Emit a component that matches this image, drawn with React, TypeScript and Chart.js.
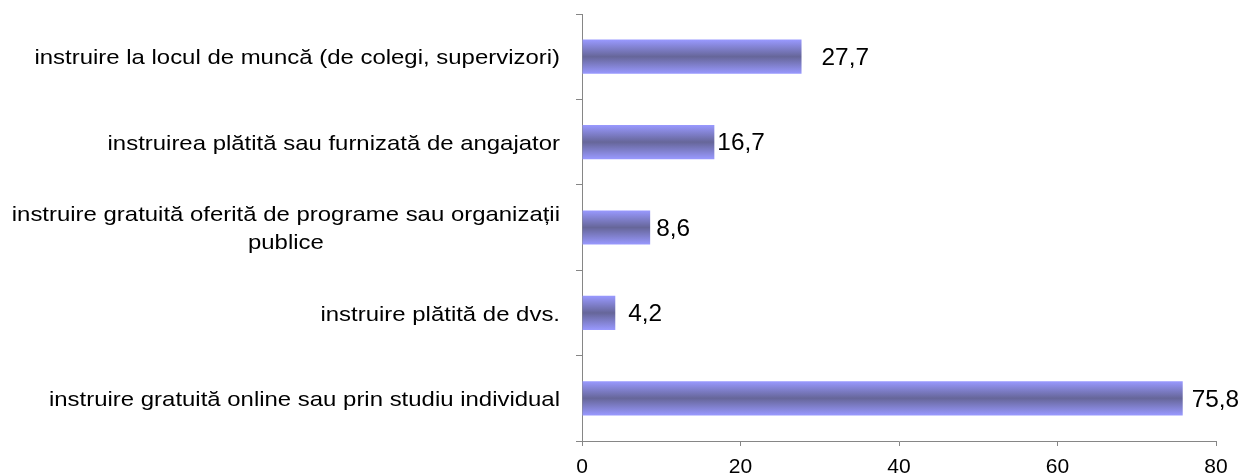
import React, { useEffect, useRef } from "react";
import { Chart, registerables } from "chart.js";

Chart.register(...registerables);

const categories: string[][] = [
  ["instruire la locul de muncă (de colegi, supervizori)"],
  ["instruirea plătită sau furnizată de angajator"],
  ["instruire gratuită oferită de programe sau organizații", "publice"],
  ["instruire plătită de dvs."],
  ["instruire gratuită online sau prin studiu individual"],
];
const values: number[] = [27.7, 16.7, 8.6, 4.2, 75.8];
const valueLabels: string[] = ["27,7", "16,7", "8,6", "4,2", "75,8"];
const xTicks: number[] = [0, 20, 40, 60, 80];

const labelGaps = [20, 3, 6, 13, 9];
const FONT = "'Liberation Sans', Arial, sans-serif";
const AXIS_COLOR = "#868686";
const BAR_PCT = 0.4;
const CAT_STRETCH = 1.14;
const VAL_STRETCH = 1.06;

export default function App() {
  const ref = useRef<HTMLCanvasElement | null>(null);
  useEffect(() => {
    if (!ref.current) return;
    const categoryLabelsPlugin = {
      id: "catLabels",
      afterDraw(chart: any) {
        const c = chart.ctx;
        const y = chart.scales.y;
        const right = 560;
        const lh = 28;
        c.save();
        c.font = `21px ${FONT}`;
        c.fillStyle = "#000";
        c.textAlign = "center";
        c.textBaseline = "middle";
        categories.forEach((lines, i) => {
          const w = Math.max(...lines.map((l) => c.measureText(l).width)) * CAT_STRETCH;
          const cx = right - w / 2;
          const cy = y.getPixelForValue(i) + 2;
          const start = cy - ((lines.length - 1) * lh) / 2;
          lines.forEach((l, k) => {
            c.save();
            c.translate(cx, start + k * lh);
            c.scale(CAT_STRETCH, 1);
            c.fillText(l, 0, 0);
            c.restore();
          });
        });
        c.restore();
      },
    };
    const valueLabelsPlugin = {
      id: "valLabels",
      afterDatasetsDraw(chart: any) {
        const c = chart.ctx;
        const meta = chart.getDatasetMeta(0);
        c.save();
        c.font = `23px ${FONT}`;
        c.fillStyle = "#000";
        c.textAlign = "left";
        c.textBaseline = "middle";
        meta.data.forEach((el: any, i: number) => {
          c.save();
          c.translate(el.x + labelGaps[i], el.y + 2);
          c.scale(VAL_STRETCH, 1);
          c.fillText(valueLabels[i], 0, 0);
          c.restore();
        });
        c.restore();
      },
    };
    const chart = new Chart(ref.current, {
      type: "bar",
      data: {
        labels: categories.map((l) => l.join(" ")),
        datasets: [
          {
            data: values,
            barPercentage: BAR_PCT,
            categoryPercentage: 1,
            borderWidth: 0,
            backgroundColor: (ctx: any) => {
              const ch = ctx.chart;
              const ys = ch.scales.y;
              if (!ch.chartArea || !ys || ctx.dataIndex === undefined) return "#9999FF";
              const center = ys.getPixelForValue(ctx.dataIndex);
              const half = ((ys.height / categories.length) * BAR_PCT) / 2;
              const g = ch.ctx.createLinearGradient(0, center - half, 0, center + half);
              g.addColorStop(0, "#9999FF");
              g.addColorStop(0.5, "#666699");
              g.addColorStop(1, "#9999FF");
              return g;
            },
          },
        ],
      },
      options: {
        indexAxis: "y",
        animation: false,
        responsive: false,
        layout: { padding: { top: 14, right: 28, left: 0, bottom: 0 } },
        plugins: {
          legend: { display: false },
          tooltip: { enabled: false },
        },
        scales: {
          x: {
            min: 0,
            max: 80,
            afterBuildTicks: (s: any) => {
              s.ticks = xTicks.map((v) => ({ value: v }));
            },
            afterFit: (s: any) => {
              s.height = 34;
            },
            grid: { drawOnChartArea: false, tickLength: 5, color: AXIS_COLOR },
            border: { color: AXIS_COLOR, width: 1 },
            ticks: { color: "#000", font: { family: FONT, size: 21 }, padding: 9, maxRotation: 0 },
          },
          y: {
            offset: true,
            afterFit: (s: any) => {
              s.width = 582;
            },
            grid: { drawOnChartArea: false, offset: true, tickLength: 6, color: AXIS_COLOR },
            border: { color: AXIS_COLOR, width: 1 },
            ticks: { display: false },
          },
        },
      },
      plugins: [categoryLabelsPlugin, valueLabelsPlugin],
    });
    return () => chart.destroy();
  }, []);
  return (
    <canvas
      ref={ref}
      width={1244}
      height={475}
      style={{ position: "absolute", left: 0, top: 0, display: "block" }}
    />
  );
}
